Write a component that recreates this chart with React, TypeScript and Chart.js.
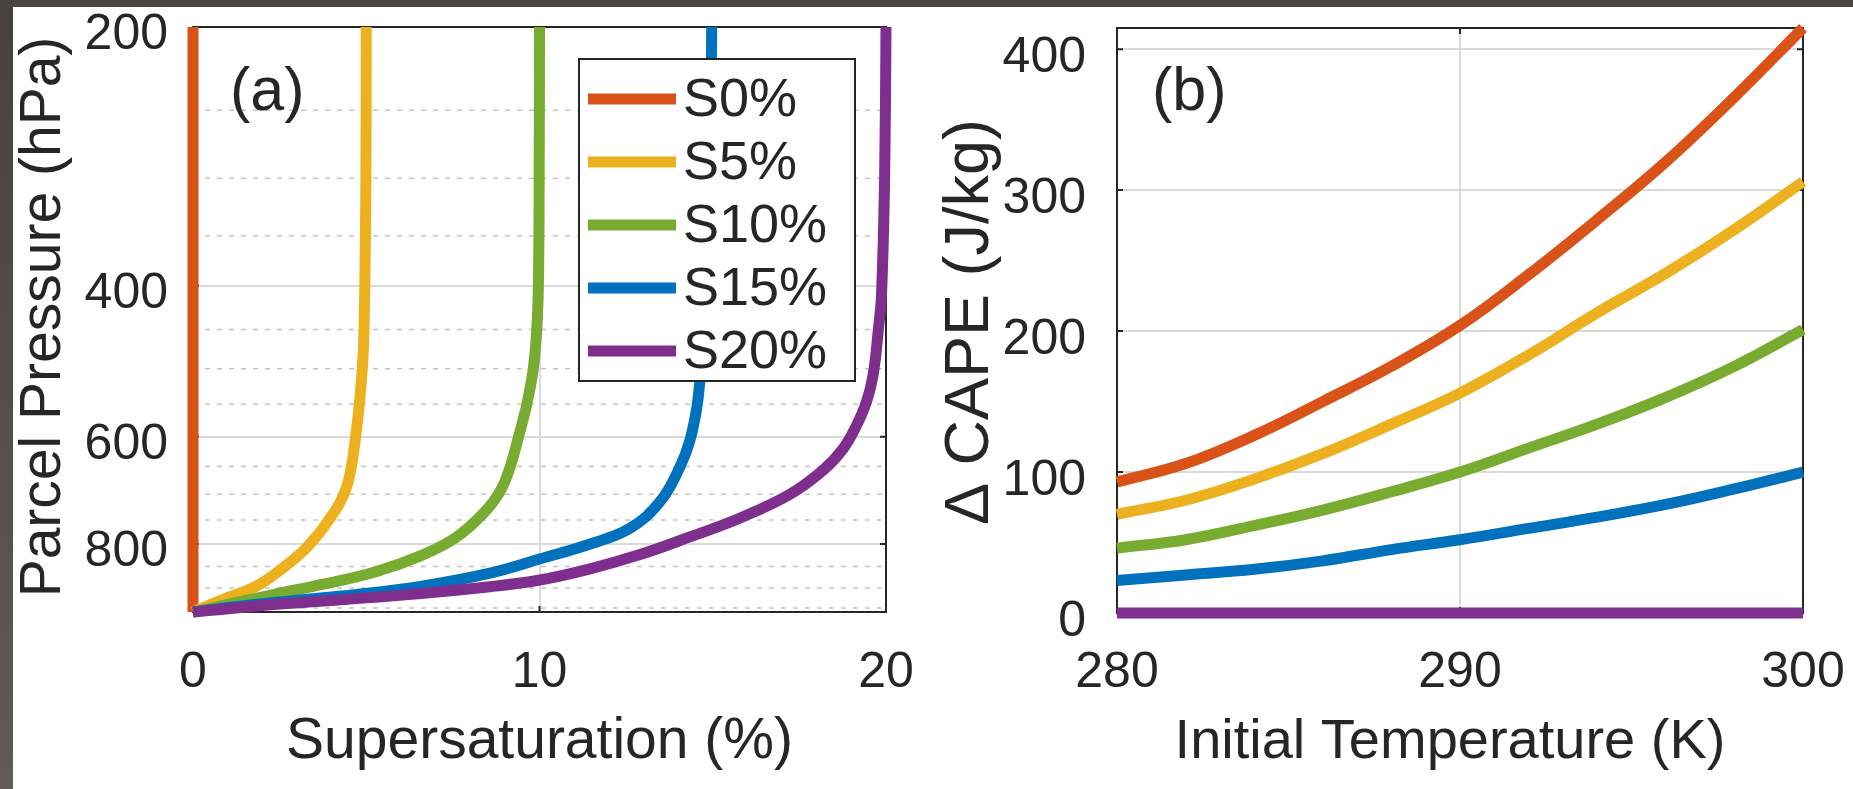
import React, { useEffect, useRef } from "react";
import { Chart, registerables } from "chart.js";

Chart.register(...registerables);

const FONT = '"Liberation Sans", Arial, Helvetica, sans-serif';
const INK = "#262626";
const GRID = "#dadada";
const MINOR = "#c4c4c4";
const LINE_W = 11;

// ---------- shared series ----------
const seriesLabels = ["S0%", "S5%", "S10%", "S15%", "S20%"];
const seriesColors = ["#D95319", "#EDB120", "#77AC30", "#0072BD", "#7E2F8E"];

// ---------- panel (a): supersaturation (%) vs parcel pressure (hPa) ----------
const s0Pressure = [960, 200];
const s0Super = [0, 0];

const s5Pressure = [960, 928, 895, 852, 815, 779, 752, 719, 687, 651, 606, 565, 516, 471, 396, 300, 200];
const s5Super = [0, 0.87, 1.84, 2.61, 3.18, 3.62, 3.9, 4.22, 4.43, 4.57, 4.68, 4.77, 4.86, 4.92, 4.96, 4.99, 5.0];

const s10Pressure = [960, 916, 891, 861, 823, 785, 737, 695, 651, 601, 551, 500, 451, 396, 300, 200];
const s10Super = [0, 2.32, 3.76, 5.3, 6.65, 7.61, 8.38, 8.86, 9.15, 9.39, 9.63, 9.82, 9.92, 9.97, 9.99, 10.0];

const s15Pressure = [960, 949, 932, 916, 895, 865, 833, 800, 767, 714, 651, 606, 555, 516, 450, 400, 300, 200];
const s15Super = [0, 0.95, 2.8, 4.72, 6.65, 8.57, 10.0, 11.46, 12.61, 13.48, 14.05, 14.34, 14.54, 14.63, 14.78, 14.85, 14.92, 14.97];

const s20Pressure = [960, 938, 920, 897, 881, 855, 823, 785, 746, 700, 656, 619, 582, 546, 508, 450, 410, 300, 200];
const s20Super = [0, 2.8, 5.69, 8.57, 10.01, 11.46, 12.9, 14.34, 15.79, 17.23, 18.19, 18.77, 19.15, 19.44, 19.63, 19.78, 19.87, 19.96, 20.0];

const superTicks = [0, 10, 20];
const pressureTicks = [200, 400, 600, 800];
const pressureMinorGrid = [250, 300, 350, 450, 500, 550, 650, 700, 750, 850, 900, 950];

// ---------- panel (b): delta CAPE (J/kg) vs initial temperature (K) ----------
const tempK = [280, 282, 284, 286, 288, 290, 292, 294, 296, 298, 300];
const capeS0 = [93, 106, 126, 150, 175, 204, 240, 279, 320, 366, 415];
const capeS5 = [70, 80, 95, 113, 134, 156, 183, 213, 241, 272, 306];
const capeS10 = [46, 52, 62, 73, 86, 100, 117, 134, 153, 175, 201];
const capeS15 = [23, 27, 31, 37, 45, 52, 60, 68, 77, 88, 100];
const capeS20 = [0, 0, 0, 0, 0, 0, 0, 0, 0, 0, 0];

const tempTicks = [280, 290, 300];
const capeTicks = [0, 100, 200, 300, 400];

// ---------- helpers ----------
type Legend = {
  left: number; top: number; right: number; bottom: number;
  rowTop: number; rowStep: number; lineX0: number; lineX1: number; textX: number; font: number;
};
type Decor = {
  xTitle: string; yTitle: string; panelLabel: string;
  tickFont: number; titleFont: number; yTitleFont: number; panelFont: number;
  yLabelRight: number; yLabelDy: number; xLabelBaseline: number;
  xTitleX: number; xTitleBaseline: number; yTitleX: number; yTitleY: number;
  panelX: number; panelY: number;
  minor?: number[];
  legend?: Legend;
};

function decorPlugin(d: Decor) {
  return {
    id: "decor",
    beforeDatasetsDraw(chart: any) {
      const { ctx, chartArea: a, scales } = chart;
      const xs = scales.x;
      const ys = scales.y;
      ctx.save();
      if (d.minor) {
        ctx.strokeStyle = MINOR;
        ctx.lineWidth = 1.5;
        ctx.setLineDash([5, 7]);
        for (const v of d.minor) {
          const py = ys.getPixelForValue(v);
          ctx.beginPath();
          ctx.moveTo(a.left, py);
          ctx.lineTo(a.right, py);
          ctx.stroke();
        }
        ctx.setLineDash([]);
      }
      ctx.strokeStyle = INK;
      ctx.lineWidth = 2;
      ctx.strokeRect(a.left, a.top, a.right - a.left, a.bottom - a.top);
      const L = 6;
      ctx.beginPath();
      for (const t of xs.ticks) {
        const px = xs.getPixelForValue(t.value);
        ctx.moveTo(px, a.bottom);
        ctx.lineTo(px, a.bottom - L);
        ctx.moveTo(px, a.top);
        ctx.lineTo(px, a.top + L);
      }
      for (const t of ys.ticks) {
        const py = ys.getPixelForValue(t.value);
        ctx.moveTo(a.left, py);
        ctx.lineTo(a.left + L, py);
        ctx.moveTo(a.right, py);
        ctx.lineTo(a.right - L, py);
      }
      ctx.stroke();
      ctx.restore();
    },
    afterDraw(chart: any) {
      const { ctx, scales } = chart;
      ctx.save();
      ctx.fillStyle = INK;
      ctx.textBaseline = "alphabetic";
      ctx.font = `${d.tickFont}px ${FONT}`;
      ctx.textAlign = "center";
      for (const t of scales.x.ticks) {
        ctx.fillText(String(t.value), scales.x.getPixelForValue(t.value), d.xLabelBaseline);
      }
      ctx.textAlign = "right";
      for (const t of scales.y.ticks) {
        ctx.fillText(String(t.value), d.yLabelRight, scales.y.getPixelForValue(t.value) + d.yLabelDy);
      }
      ctx.font = `${d.titleFont}px ${FONT}`;
      ctx.textAlign = "center";
      ctx.fillText(d.xTitle, d.xTitleX, d.xTitleBaseline);
      ctx.save();
      ctx.translate(d.yTitleX, d.yTitleY);
      ctx.rotate(-Math.PI / 2);
      ctx.font = `${d.yTitleFont}px ${FONT}`;
      ctx.textAlign = "center";
      ctx.fillText(d.yTitle, 0, 0);
      ctx.restore();
      ctx.font = `${d.panelFont}px ${FONT}`;
      ctx.textAlign = "left";
      ctx.fillText(d.panelLabel, d.panelX, d.panelY);
      if (d.legend) {
        const g = d.legend;
        ctx.fillStyle = "#ffffff";
        ctx.fillRect(g.left, g.top, g.right - g.left, g.bottom - g.top);
        ctx.strokeStyle = INK;
        ctx.lineWidth = 2;
        ctx.strokeRect(g.left, g.top, g.right - g.left, g.bottom - g.top);
        ctx.font = `${g.font}px ${FONT}`;
        ctx.textAlign = "left";
        ctx.textBaseline = "middle";
        chart.data.datasets.forEach((ds: any, i: number) => {
          const cy = g.rowTop + i * g.rowStep;
          ctx.strokeStyle = ds.borderColor;
          ctx.lineWidth = LINE_W;
          ctx.beginPath();
          ctx.moveTo(g.lineX0, cy);
          ctx.lineTo(g.lineX1, cy);
          ctx.stroke();
          ctx.fillStyle = INK;
          ctx.fillText(ds.label, g.textX, cy + 2);
        });
      }
      ctx.restore();
    },
  };
}

function axis(min: number, max: number, ticks: number[], kind: "x" | "y", extra: any = {}) {
  return {
    type: "linear",
    min,
    max,
    afterBuildTicks: (s: any) => {
      s.ticks = ticks.map((v) => ({ value: v }));
    },
    afterFit: (s: any) => {
      if (kind === "x") s.height = 0;
      else s.width = 0;
    },
    ticks: { display: false },
    grid: { color: GRID, lineWidth: 2, drawTicks: false },
    border: { display: false },
    ...extra,
  };
}

function lineSet(label: string, color: string, xs: number[], ys: number[], idx: number, curved: boolean) {
  return {
    label,
    data: xs.map((x, i) => ({ x, y: ys[i] })),
    borderColor: color,
    backgroundColor: color,
    borderWidth: LINE_W,
    pointRadius: 0,
    fill: false,
    clip: false,
    order: seriesLabels.length - 1 - idx,
    tension: curved ? 0.4 : 0,
    borderCapStyle: "butt",
    borderJoinStyle: "round",
  };
}

function baseOptions(padding: any, scales: any) {
  return {
    responsive: false,
    animation: false,
    events: [],
    layout: { padding },
    plugins: { legend: { display: false }, tooltip: { enabled: false }, title: { display: false } },
    scales,
  };
}

function buildA() {
  const datasets = [
    lineSet(seriesLabels[0], seriesColors[0], s0Super, s0Pressure, 0, false),
    lineSet(seriesLabels[1], seriesColors[1], s5Super, s5Pressure, 1, true),
    lineSet(seriesLabels[2], seriesColors[2], s10Super, s10Pressure, 2, true),
    lineSet(seriesLabels[3], seriesColors[3], s15Super, s15Pressure, 3, true),
    lineSet(seriesLabels[4], seriesColors[4], s20Super, s20Pressure, 4, true),
  ];
  const decor: Decor = {
    xTitle: "Supersaturation (%)",
    yTitle: "Parcel Pressure (hPa)",
    panelLabel: "(a)",
    tickFont: 50,
    titleFont: 57,
    yTitleFont: 57,
    panelFont: 61,
    yLabelRight: 168,
    yLabelDy: 22,
    xLabelBaseline: 687,
    xTitleX: 539.5,
    xTitleBaseline: 758,
    yTitleX: 60,
    yTitleY: 317,
    panelX: 230,
    panelY: 110,
    minor: pressureMinorGrid,
    legend: {
      left: 579, top: 59, right: 855, bottom: 381,
      rowTop: 99, rowStep: 63, lineX0: 588, lineX1: 676, textX: 683, font: 54,
    },
  };
  return {
    type: "line",
    data: { datasets },
    options: baseOptions(
      { left: 193, top: 27, right: 930 - 886, bottom: 789 - 612 },
      {
        x: axis(0, 20, superTicks, "x"),
        y: axis(200, 960, pressureTicks, "y", { type: "logarithmic", reverse: true }),
      }
    ),
    plugins: [decorPlugin(decor)],
  };
}

function buildB() {
  const series = [capeS0, capeS5, capeS10, capeS15, capeS20];
  const datasets = series.map((vals, i) => lineSet(seriesLabels[i], seriesColors[i], tempK, vals, i, i < 4));
  const decor: Decor = {
    xTitle: "Initial Temperature (K)",
    yTitle: "\u0394 CAPE (J/kg)",
    panelLabel: "(b)",
    tickFont: 50,
    titleFont: 56,
    yTitleFont: 63,
    panelFont: 61,
    yLabelRight: 1086 - 930,
    yLabelDy: 23,
    xLabelBaseline: 687,
    xTitleX: 1450 - 930,
    xTitleBaseline: 758,
    yTitleX: 988 - 930,
    yTitleY: 322,
    panelX: 1152 - 930,
    panelY: 110,
  };
  return {
    type: "line",
    data: { datasets },
    options: baseOptions(
      { left: 1117 - 930, top: 28, right: 1853 - 1803, bottom: 789 - 613 },
      {
        x: axis(280, 300, tempTicks, "x"),
        y: axis(0, 415, capeTicks, "y"),
      }
    ),
    plugins: [decorPlugin(decor)],
  };
}

function ChartCanvas({ left, width, height, build }: { left: number; width: number; height: number; build: () => any }) {
  const ref = useRef<HTMLCanvasElement | null>(null);
  useEffect(() => {
    if (!ref.current) return;
    const chart = new Chart(ref.current, build());
    return () => chart.destroy();
  }, []);
  return (
    <canvas
      ref={ref}
      width={width}
      height={height}
      style={{ position: "absolute", left, top: 0, width, height }}
    />
  );
}

export default function App() {
  return (
    <div
      style={{
        position: "absolute",
        left: 0,
        top: 0,
        width: 1853,
        height: 789,
        background: "#ffffff",
        overflow: "hidden",
      }}
    >
      <div style={{ position: "absolute", left: 0, top: 0, width: 1853, height: 7, background: "#4a4540" }} />
      <div
        style={{
          position: "absolute",
          left: 0,
          top: 0,
          width: 13,
          height: 789,
          background: "linear-gradient(#46413c, #605b56)",
        }}
      />
      <ChartCanvas left={0} width={930} height={789} build={buildA} />
      <ChartCanvas left={930} width={923} height={789} build={buildB} />
    </div>
  );
}
